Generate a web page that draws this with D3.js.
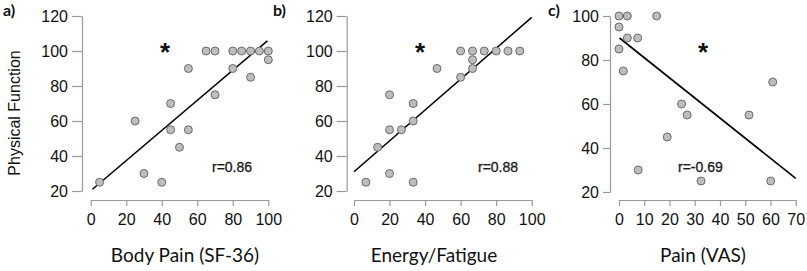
<!DOCTYPE html>
<html>
<head>
<meta charset="utf-8">
<script src="https://cdn.jsdelivr.net/npm/d3@7"></script>
<style>
  body { margin: 0; background: #fff; }
  svg { display: block; }
  .tick text { font-family: "Liberation Sans", Arial, sans-serif; font-size: 16px; fill: #111; }
  .axis path, .axis line { stroke: #999; stroke-width: 1.2; }
  .dot { fill: #bdbdbd; stroke: #6b6b6b; stroke-width: 1; }
  .fit { stroke: #000; stroke-width: 1.6; }
  .axis-title { font-family: Lato, "Open Sans", sans-serif; font-size: 19px; fill: #111; }
  .panel-label { font-family: Lato, "Open Sans", sans-serif; font-weight: bold; font-size: 16px; fill: #111; }
  .r-text { font-family: "Liberation Sans", Arial, sans-serif; font-size: 14px; fill: #1a1a1a; stroke: #1a1a1a; stroke-width: 0.3; }
  .star { font-family: "Liberation Sans", Arial, sans-serif; font-weight: bold; font-size: 26px; fill: #111; }
</style>
</head>
<body>
<script>
// a) Body Pain (SF-36) vs Physical Function
var bodyPain = [5, 25, 30, 40, 45, 45, 50, 55, 55, 65, 70, 70, 80, 80, 85, 90, 90, 95, 100, 100];
var bodyPainPF = [25, 60, 30, 25, 55, 70, 45, 55, 90, 100, 100, 75, 100, 90, 100, 100, 85, 100, 100, 95];
var bodyPainFit = [[1, 21], [99.5, 105.8]];

// b) Energy/Fatigue vs Physical Function
var energy = [6.7, 13.3, 20, 20, 20, 26.7, 33.3, 33.3, 33.3, 46.7, 60, 60, 66.7, 66.7, 66.7, 73.3, 80, 86.7, 93.3];
var energyPF = [25, 45, 30, 55, 75, 55, 25, 60, 70, 90, 85, 100, 90, 95, 100, 100, 100, 100, 100];
var energyFit = [[0, 31], [100, 119.2]];

// c) Pain (VAS) vs Physical Function
var painVas = [0, 0, 0, 1.7, 3.3, 3.3, 7.4, 7.6, 14.9, 19.1, 24.8, 27, 32.5, 51.5, 60.1, 60.9];
var painVasPF = [100, 95, 85, 75, 100, 90, 90, 30, 100, 45, 60, 55, 25, 55, 25, 70];
var painVasFit = [[0.2, 90], [70, 26.2]];

var pfTicks = [20, 40, 60, 80, 100, 120];
var pfTicksC = [20, 40, 60, 80, 100];
var pctTicks = [0, 20, 40, 60, 80, 100];
var vasTicks = [0, 10, 20, 30, 40, 50, 60, 70];

var panels = [
    {label: "a)", title: "Body Pain (SF-36)", r: "r=0.86", xs: bodyPain, ys: bodyPainPF, fit: bodyPainFit,
     xDomain: [0, 100], xRange: [90.7, 268.3], yDomain: [20, 120], yRange: [191, 16],
     yAxisX: 82, xTicks: pctTicks, yTicks: pfTicks, labelX: 3, star: [165, 49], rX: 212, yTick: 10, titleX: 185},
    {label: "b)", title: "Energy/Fatigue", r: "r=0.88", xs: energy, ys: energyPF, fit: energyFit,
     xDomain: [0, 100], xRange: [354, 531.7], yDomain: [20, 120], yRange: [191, 16],
     yAxisX: 346.7, xTicks: pctTicks, yTicks: pfTicks, labelX: 273, star: [420, 49], rX: 478, yTick: 10, titleX: 434},
    {label: "c)", title: "Pain (VAS)", r: "r=-0.69", xs: painVas, ys: painVasPF, fit: painVasFit,
     xDomain: [0, 70], xRange: [619, 795.7], yDomain: [20, 100], yRange: [192, 16],
     yAxisX: 610, xTicks: vasTicks, yTicks: pfTicksC, labelX: 548, star: [703, 49], rX: 678, yTick: 7, titleX: 703}
];

var svg = d3.select("body").append("svg")
    .attr("width", 807)
    .attr("height", 271);

panels.forEach(function(p) {
    var xScale = d3.scaleLinear().domain(p.xDomain).range(p.xRange);
    var yScale = d3.scaleLinear().domain(p.yDomain).range(p.yRange);
    var g = svg.append("g");

    g.append("g")
        .attr("class", "axis")
        .attr("transform", "translate(0,200)")
        .call(d3.axisBottom(xScale).tickValues(p.xTicks).tickSize(6).tickSizeOuter(0).tickPadding(8));

    g.append("g")
        .attr("class", "axis")
        .attr("transform", "translate(" + p.yAxisX + ",0)")
        .call(d3.axisLeft(yScale).tickValues(p.yTicks).tickSize(p.yTick).tickSizeOuter(0).tickPadding(4));

    g.selectAll(".axis .domain").attr("stroke", "#999");

    var line = d3.line()
        .x(function(d) { return xScale(d[0]); })
        .y(function(d) { return yScale(d[1]); });

    g.append("path")
        .attr("class", "fit")
        .attr("fill", "none")
        .attr("d", line(p.fit));

    g.selectAll(".dot")
        .data(p.xs.map(function(x, i) { return {x: x, y: p.ys[i]}; }))
        .enter()
        .append("circle")
        .attr("class", "dot")
        .attr("cx", function(d) { return xScale(d.x); })
        .attr("cy", function(d) { return yScale(d.y); })
        .attr("r", 4);

    g.append("text")
        .attr("class", "panel-label")
        .attr("x", p.labelX)
        .attr("y", 16)
        .text(p.label);

    g.append("text")
        .attr("class", "star")
        .attr("x", p.star[0])
        .attr("y", p.star[1] + 12)
        .attr("text-anchor", "middle")
        .text("*");

    g.append("text")
        .attr("class", "r-text")
        .attr("x", p.rX)
        .attr("y", 172)
        .text(p.r);

    g.append("text")
        .attr("class", "axis-title")
        .attr("x", p.titleX)
        .attr("y", 262)
        .attr("text-anchor", "middle")
        .text(p.title);
});

svg.append("text")
    .attr("transform", "translate(20,113) rotate(-90)")
    .attr("text-anchor", "middle")
    .style("font-family", "'Liberation Sans', Arial, sans-serif")
    .style("font-size", "16px")
    .style("fill", "#111")
    .text("Physical Function");
</script>
</body>
</html>
